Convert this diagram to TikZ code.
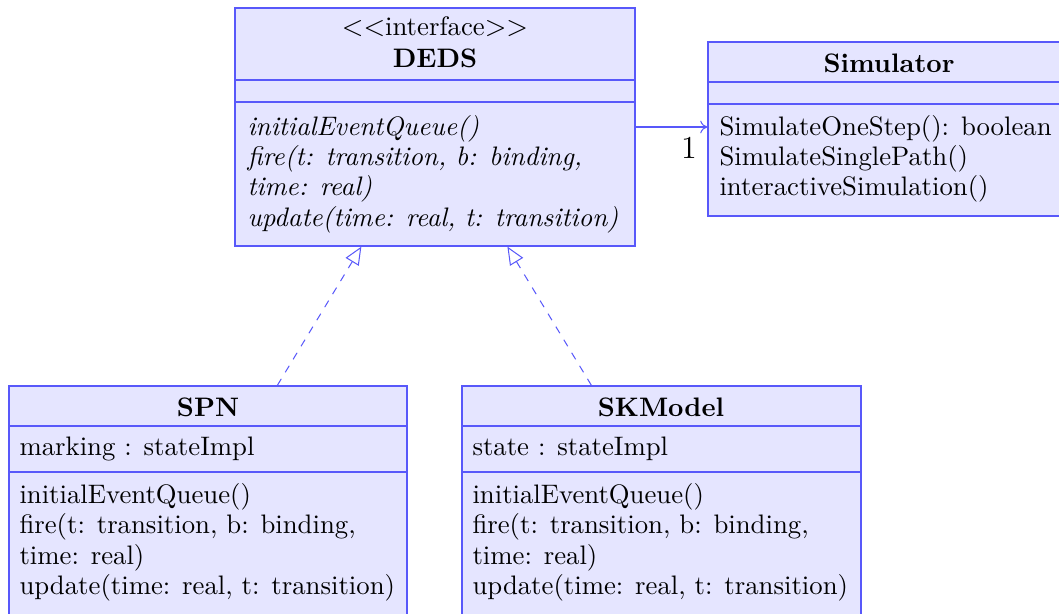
\documentclass[tikz,border=0pt]{standalone}
\usetikzlibrary{arrows.meta,fit}
\definecolor{umlline}{RGB}{88,88,250}
\colorlet{umlfill}{blue!10}
\newcommand\umlsize{\fontsize{10.53pt}{12pt}\selectfont}
\tikzset{
  classbox/.style={draw=umlline, fill=umlfill, line width=0.5pt, inner sep=0pt, rectangle},
  divider/.style={draw=umlline, line width=0.5pt},
  ttl/.style={inner sep=0pt, anchor=base, font=\umlsize},
  ttlb/.style={inner sep=0pt, anchor=base, font=\umlsize\bfseries},
  txt/.style={inner sep=0pt, anchor=base west, font=\umlsize},
  txti/.style={inner sep=0pt, anchor=base west, font=\umlsize\itshape},
  assoc/.style={draw=umlline, line width=0.4pt, -{To[length=2.8pt,width=5pt]}},
  impl/.style={draw=umlline, line width=0.4pt, dashed, -{Triangle[open,length=7pt,width=6pt]}},
}
\begin{document}
\begin{tikzpicture}[x=0.3937pt,y=-0.3937pt]
\useasboundingbox (0,0) rectangle (1059,614);
\clip (0,0) rectangle (1059,614);

% DEDS interface
\node[classbox, fit={(235,8)(635,246)}] (deds) {};
\draw[divider] (235,80) -- (635,80);
\draw[divider] (235,102) -- (635,102);
\node[ttl] (dedsst) at (435,36) {$<<$interface$>>$};
\node[ttlb] (dedsname) at (435,68) {DEDS};
\node[txti] (dedsm1) at (247,136) {initialEventQueue()};
\node[txti] (dedsm2) at (247,166) {fire(t: transition, b: binding,};
\node[txti] (dedsm3) at (247,196) {time: real)};
\node[txti] (dedsm4) at (247,227) {update(time: real, t: transition)};

% Simulator
\node[classbox, fit={(708,42)(1070,216)}] (sim) {};
\draw[divider] (708,82) -- (1070,82);
\draw[divider] (708,104) -- (1070,104);
\node[ttlb] (simname) at (889,73) {Simulator};
\node[txt] (simm1) at (719,136) {SimulateOneStep(): boolean};
\node[txt] (simm2) at (719,166) {SimulateSinglePath()};
\node[txt] (simm3) at (719,196) {interactiveSimulation()};

% SPN
\node[classbox, fit={(9,386)(407,640)}] (spn) {};
\draw[divider] (9,426) -- (407,426);
\draw[divider] (9,472) -- (407,472);
\node[ttlb] (spnname) at (208,417) {SPN};
\node[txt] (spna1) at (19,456) {marking : stateImpl};
\node[txt] (spnm1) at (19,504) {initialEventQueue()};
\node[txt] (spnm2) at (19,534) {fire(t: transition, b: binding,};
\node[txt] (spnm3) at (19,565) {time: real)};
\node[txt] (spnm4) at (19,595) {update(time: real, t: transition)};

% SKModel
\node[classbox, fit={(462,386)(861,640)}] (skm) {};
\draw[divider] (462,426) -- (861,426);
\draw[divider] (462,472) -- (861,472);
\node[ttlb] (skmname) at (661,417) {SKModel};
\node[txt] (skma1) at (472,456) {state : stateImpl};
\node[txt] (skmm1) at (472,504) {initialEventQueue()};
\node[txt] (skmm2) at (472,534) {fire(t: transition, b: binding,};
\node[txt] (skmm3) at (472,565) {time: real)};
\node[txt] (skmm4) at (472,595) {update(time: real, t: transition)};

% connectors
\draw[assoc] (deds.east) -- (deds.east -| sim.west);
\node[inner sep=0pt, anchor=base, font=\fontsize{12.6pt}{14pt}\selectfont] (mult) at (689,159) {1};
\draw[impl] ([xshift=105.9pt]spn.north west) -- ([xshift=50pt]deds.south west);
\draw[impl] ([xshift=51.2pt]skm.north west) -- ([xshift=107.5pt]deds.south west);
\end{tikzpicture}
\end{document}
